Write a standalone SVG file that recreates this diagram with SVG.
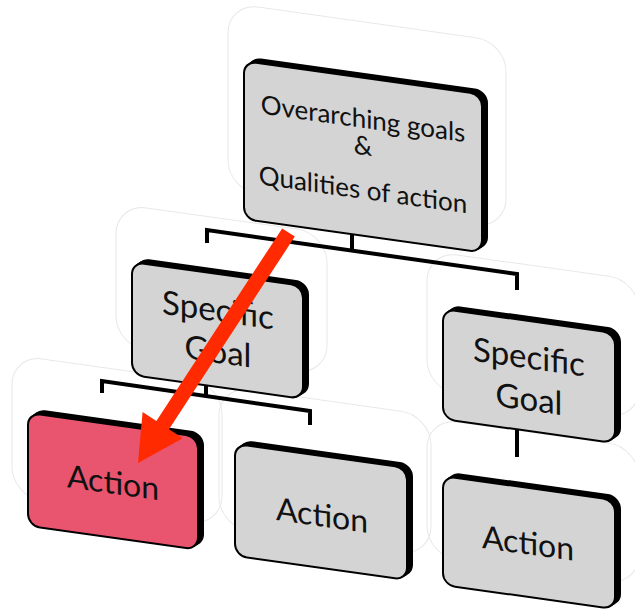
<svg xmlns="http://www.w3.org/2000/svg" width="635" height="613" viewBox="0 0 635 613">
<defs>
<style>
.halo{fill:none;stroke:#e8e8e8;stroke-width:1}
.back{fill:#000;stroke:#000;stroke-width:2}
.face{fill:#d4d4d4;stroke:#000;stroke-width:2}
.pink{fill:#e9546e}
.lbl{font-family:Lato,"Open Sans",sans-serif;fill:#111;text-anchor:middle}
.big{font-size:33px}
.act{font-size:32px}
.top{font-size:26px}
.conn{fill:none;stroke:#000;stroke-width:4;stroke-linejoin:miter}
</style>
</defs>
<rect width="635" height="613" fill="#fff"/>
<g id="halos" transform="matrix(1 0.14 0 1 0 0)">
<rect class="halo" x="228" y="-29" width="278" height="187" rx="30"/>
<rect class="halo" x="116" y="187.5" width="211" height="142" rx="30"/>
<rect class="halo" x="427" y="191" width="212" height="139" rx="30"/>
<rect class="halo" x="12" y="353" width="210" height="142" rx="30"/>
<rect class="halo" x="219" y="355" width="212" height="141" rx="30"/>
<rect class="halo" x="427" y="358" width="212" height="138" rx="30"/>
</g>
<g id="connectors">
<polyline class="conn" points="207,243 207,230 517,274 517,290"/>
<line class="conn" x1="352" y1="232" x2="352" y2="251"/>
<polyline class="conn" points="102,393 102,381 310,411 310,425"/>
<line class="conn" x1="206" y1="383" x2="206" y2="396"/>
<line class="conn" x1="517" y1="428" x2="517" y2="457"/>
</g>
<g id="node-overarching" transform="matrix(1 0.14 0 1 0 0)">
<rect class="back" x="249" y="23" width="238" height="158" rx="12"/>
<rect class="back" x="246.5" y="25" width="238" height="158" rx="12"/>
<rect class="face" x="244" y="27" width="238" height="158" rx="12"/>
<text class="lbl top" x="363" y="77">Overarching goals</text>
<text class="lbl top" x="363" y="104">&amp;</text>
<text class="lbl top" x="363" y="148">Qualities of action</text>
</g>
<g id="node-goal-left" transform="matrix(1 0.14 0 1 0 0)">
<rect class="back" x="137" y="239.5" width="171" height="113" rx="12"/>
<rect class="back" x="134.5" y="241.5" width="171" height="113" rx="12"/>
<rect class="face" x="132" y="243.5" width="171" height="113" rx="12"/>
<text class="lbl big" x="218" y="291">Specific</text>
<text class="lbl big" x="218" y="332.5">Goal</text>
</g>
<g id="node-goal-right" transform="matrix(1 0.14 0 1 0 0)">
<rect class="back" x="448" y="243" width="172" height="110" rx="12"/>
<rect class="back" x="445.5" y="245" width="172" height="110" rx="12"/>
<rect class="face" x="443" y="247" width="172" height="110" rx="12"/>
<text class="lbl big" x="529" y="294.5">Specific</text>
<text class="lbl big" x="529" y="336.5">Goal</text>
</g>
<g id="node-action-left" transform="matrix(1 0.14 0 1 0 0)">
<rect class="back" x="33" y="405" width="170" height="113" rx="12"/>
<rect class="back" x="30.5" y="407" width="170" height="113" rx="12"/>
<rect class="face pink" x="28" y="409" width="170" height="113" rx="12"/>
<text class="lbl act" x="113" y="478">Action</text>
</g>
<g id="node-action-middle" transform="matrix(1 0.14 0 1 0 0)">
<rect class="back" x="240" y="407" width="172" height="112" rx="12"/>
<rect class="back" x="237.5" y="409" width="172" height="112" rx="12"/>
<rect class="face" x="235" y="411" width="172" height="112" rx="12"/>
<text class="lbl act" x="322" y="481.5">Action</text>
</g>
<g id="node-action-right" transform="matrix(1 0.14 0 1 0 0)">
<rect class="back" x="448" y="410" width="172" height="109" rx="12"/>
<rect class="back" x="445.5" y="412" width="172" height="109" rx="12"/>
<rect class="face" x="443" y="414" width="172" height="109" rx="12"/>
<text class="lbl act" x="528" y="480.5">Action</text>
</g>
<g id="arrow">
<polygon fill="#ff2a00" points="282.2,228.4 294.8,236.6 169,429.3 182.8,438.3 138,463 142.6,412.1 156.4,421.1"/>
</g>
</svg>
